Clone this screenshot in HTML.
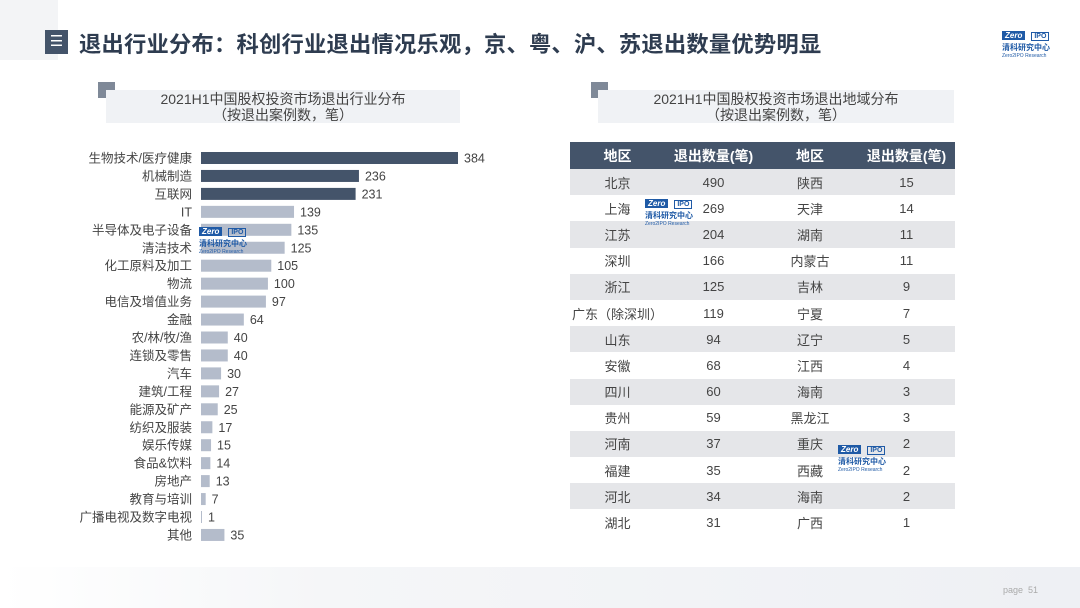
<!DOCTYPE html>
<html><head><meta charset="utf-8">
<style>
*{margin:0;padding:0;box-sizing:border-box}
body{width:1080px;height:608px;overflow:hidden;background:#fff;font-family:"Liberation Sans","Noto Sans CJK SC",sans-serif;position:relative;color:#444}
.abs{position:absolute}
.sub{background:#f0f2f5;text-align:center;font-size:14px;line-height:16px;color:#444;padding-top:1px}
.sq{background:#7f8998;width:17px;height:16px}
table{border-collapse:collapse;font-size:13px}
td,th{height:26.2px;text-align:center;padding:0}
th{background:#44546a;color:#fff;font-weight:bold;font-size:14px;height:27px}
tr.g td{background:#e5e6e9}
.logo{position:absolute;font-family:"Liberation Sans",sans-serif}
.logo .b{display:inline-block;background:#1f5aa6;color:#fff;font-weight:bold;font-size:8px;padding:0 3px;font-style:italic}
.logo .w{display:inline-block;border:1px solid #1f5aa6;color:#1f5aa6;font-size:7px;padding:0 2px;margin-left:6px;font-weight:bold}
.logo .c{color:#1f5aa6;font-size:8px;font-weight:bold;font-family:"Noto Sans CJK SC",sans-serif;line-height:10px}
.logo .e{color:#1f5aa6;font-size:5px;line-height:6px}
</style></head><body>
<div class="abs" style="left:0;top:0;width:58px;height:60px;background:#f3f4f6"></div>
<div class="abs" style="left:45px;top:30px;width:23px;height:24px;background:#44546a;color:#fff;font-size:15px;text-align:center;line-height:23px">☰</div>
<div class="abs" style="left:79px;top:27px;font-size:22.3px;font-weight:bold;color:#2e3c50;white-space:nowrap;letter-spacing:0.2px">退出行业分布：科创行业退出情况乐观，京、粤、沪、苏退出数量优势明显</div>
<div class="logo" style="left:1002px;top:25px;width:60px">
<div><span class="b">Zero</span><span class="w">IPO</span></div><div class="c">清科研究中心</div><div class="e">Zero2IPO Research</div></div>

<div class="abs sq" style="left:98px;top:82px"></div>
<div class="abs sub" style="left:106px;top:90px;width:354px;height:33px">2021H1中国股权投资市场退出行业分布<br>（按退出案例数，笔）</div>
<div class="abs sq" style="left:591px;top:82px"></div>
<div class="abs sub" style="left:598px;top:90px;width:356px;height:33px">2021H1中国股权投资市场退出地域分布<br>（按退出案例数，笔）</div>

<svg class="abs" style="left:0;top:0" width="540" height="560" id="chart"></svg>

<table class="abs" style="left:570px;top:142px;width:385px" id="tbl">
<colgroup><col style="width:95px"><col style="width:97px"><col style="width:96px"><col style="width:97px"></colgroup>
<tr><th>地区</th><th>退出数量(笔)</th><th>地区</th><th>退出数量(笔)</th></tr>
</table>
<div class="logo" style="left:645px;top:193px;width:60px">
<div><span class="b">Zero</span><span class="w">IPO</span></div><div class="c">清科研究中心</div><div class="e">Zero2IPO Research</div></div>
<div class="logo" style="left:838px;top:439px;width:60px">
<div><span class="b">Zero</span><span class="w">IPO</span></div><div class="c">清科研究中心</div><div class="e">Zero2IPO Research</div></div>
<div class="logo" style="left:199px;top:221px;width:60px">
<div><span class="b">Zero</span><span class="w">IPO</span></div><div class="c">清科研究中心</div><div class="e">Zero2IPO Research</div></div>

<div class="abs" style="left:0;top:567px;width:1080px;height:41px;background:linear-gradient(90deg,#fff 0%,#f5f6f8 30%,#eef0f4 100%)"></div>
<div class="abs" style="left:1003px;top:585px;font-size:9px;color:#aaa">page&nbsp; 51</div>

<script>
const categories=["生物技术/医疗健康","机械制造","互联网","IT","半导体及电子设备","清洁技术","化工原料及加工","物流","电信及增值业务","金融","农/林/牧/渔","连锁及零售","汽车","建筑/工程","能源及矿产","纺织及服装","娱乐传媒","食品&饮料","房地产","教育与培训","广播电视及数字电视","其他"];
const values=[384,236,231,139,135,125,105,100,97,64,40,40,30,27,25,17,15,14,13,7,1,35];
const highlightCount=3;
const regionsA=["北京","上海","江苏","深圳","浙江","广东（除深圳）","山东","安徽","四川","贵州","河南","福建","河北","湖北"];
const countsA=[490,269,204,166,125,119,94,68,60,59,37,35,34,31];
const regionsB=["陕西","天津","湖南","内蒙古","吉林","宁夏","辽宁","江西","海南","黑龙江","重庆","西藏","海南","广西"];
const countsB=[15,14,11,11,9,7,5,4,3,3,2,2,2,1];

const svg=document.getElementById('chart');
const NS='http://www.w3.org/2000/svg';
const x0=201, xs=v=>v*257/384, yc=i=>158+i*17.95, bh=12;
categories.forEach((c,i)=>{
  const r=document.createElementNS(NS,'rect');
  
  
  r.setAttribute('x',x0);r.setAttribute('y',yc(i)-bh/2);
  r.setAttribute('width',Math.max(1,xs(values[i])));r.setAttribute('height',bh);
  r.setAttribute('fill',i<highlightCount?'#44546a':'#b4bccb');
  svg.appendChild(r);
  const t=document.createElementNS(NS,'text');
  
  
  t.setAttribute('x',192);t.setAttribute('y',yc(i)+4.5);
  t.setAttribute('text-anchor','end');t.setAttribute('font-size','12.5');t.setAttribute('fill','#444');
  t.textContent=c;svg.appendChild(t);
  const v=document.createElementNS(NS,'text');
  
  
  v.setAttribute('x',x0+Math.max(1,xs(values[i]))+6);v.setAttribute('y',yc(i)+4.5);
  v.setAttribute('font-size','12.5');v.setAttribute('fill','#444');
  v.textContent=values[i];svg.appendChild(v);
});
const tbl=document.getElementById('tbl');
regionsA.forEach((r,i)=>{
  const tr=document.createElement('tr');
  
  
  if(i%2===0) tr.className='g';
  [r,countsA[i],regionsB[i],countsB[i]].forEach(v=>{const td=document.createElement('td');td.textContent=v;tr.appendChild(td);});
  tbl.appendChild(tr);
});
</script>
</body></html>
